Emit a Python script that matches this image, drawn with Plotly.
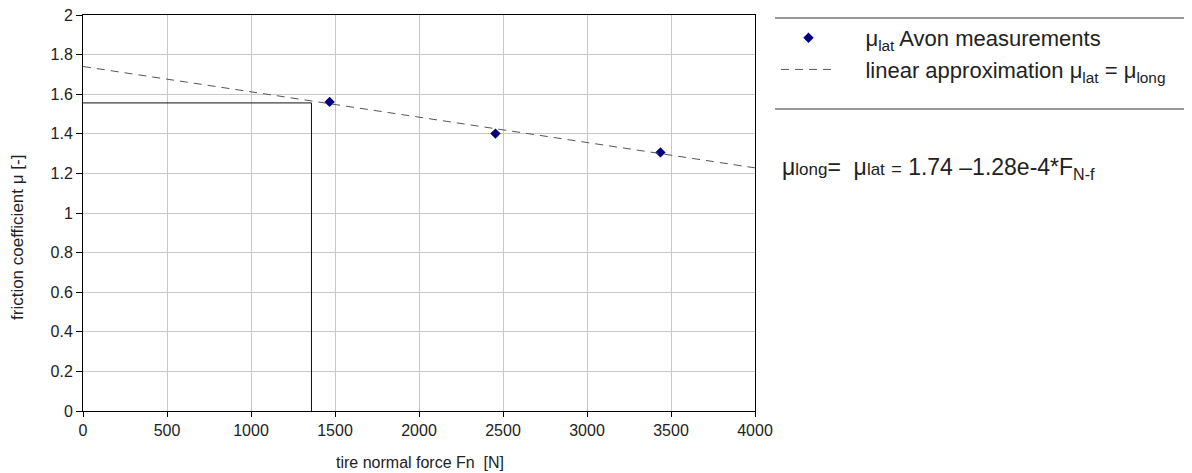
import plotly.graph_objects as go

# measured data
force_meas = [1468, 2455, 3437]
mu_meas = [1.561, 1.401, 1.306]

# linear approximation mu = a - b*F
approx_a = 1.74
approx_b = 1.28e-4
force_line = [0, 4000]
mu_line = [approx_a - approx_b * f for f in force_line]

# design point guide lines
guide_x = [0, 1360, 1360]
guide_y = [1.556, 1.556, 0]

x_ticks = [0, 500, 1000, 1500, 2000, 2500, 3000, 3500, 4000]
y_ticks = [0, 0.2, 0.4, 0.6, 0.8, 1, 1.2, 1.4, 1.6, 1.8, 2]

OFF = 8  # page body margin
W, H = 1184, 465
L, T = 75, 7
PW, PH = 672, 396
R = W - L - PW
B = H - T - PH

def px(xp):
    return (xp - OFF - L) / PW

def py(yp):
    return (T + PH - (yp - OFF)) / PH

FONT = "Liberation Sans, Arial, sans-serif"
TXT = "#222222"

fig = go.Figure()

fig.add_trace(go.Scatter(
    x=guide_x, y=guide_y, mode="lines",
    line=dict(color="#111111", width=1), showlegend=False, hoverinfo="skip"))

fig.add_trace(go.Scatter(
    x=force_meas, y=mu_meas, mode="markers",
    marker=dict(symbol="diamond", size=8, color="#000080"),
    name="    μ<sub>lat</sub> Avon measurements", legendgroup="a"))

fig.add_trace(go.Scatter(
    x=force_line, y=mu_line, mode="lines",
    line=dict(color="#555555", width=1, dash="8px,6px"),
    name="    linear approximation μ<sub>lat</sub> = μ<sub>long</sub>", legendgroup="b"))

fig.update_layout(
    width=W, height=H,
    margin=dict(l=L, r=R, t=T, b=B, autoexpand=False),
    paper_bgcolor="white", plot_bgcolor="white",
    font=dict(family=FONT, color=TXT),
    showlegend=True,
    legend=dict(
        xref="container", yref="container",
        x=(776 - OFF) / W, y=1 - 9 / H, xanchor="left", yanchor="top",
        font=dict(size=22, family=FONT, color=TXT),
        itemwidth=55, tracegroupgap=0, bgcolor="rgba(0,0,0,0)",
        borderwidth=0),
    xaxis=dict(
        range=[0, 4000], tickvals=x_ticks, ticks="outside", ticklen=5,
        tickcolor="black", showline=True, linecolor="black", linewidth=1,
        mirror=True, showgrid=True, gridcolor="#c8c8c8", gridwidth=1,
        zeroline=False, ticklabeloverflow="allow",
        tickfont=dict(size=16, family=FONT, color=TXT)),
    yaxis=dict(
        range=[0, 2], tickvals=y_ticks, ticks="outside", ticklen=6,
        tickcolor="black", showline=True, linecolor="black", linewidth=1,
        mirror=True, showgrid=True, gridcolor="#c8c8c8", gridwidth=1,
        zeroline=False, ticklabeloverflow="allow",
        tickfont=dict(size=16, family=FONT, color=TXT)),
)

# legend frame (top, bottom, right)
lx0, lx1, ly0, ly1 = px(775), px(1189), py(18), py(109)
for (a, b, c, d) in [(lx0, ly0, lx1, ly0), (lx0, ly1, lx1, ly1), (lx1, ly0, lx1, ly1)]:
    fig.add_shape(type="line", xref="paper", yref="paper", x0=a, y0=b, x1=c, y1=d,
                  line=dict(color="#333333", width=1))

fig.add_annotation(
    xref="paper", yref="paper", x=px(780), y=py(169), xanchor="left", yanchor="middle",
    text='μ<span style="font-size:17px">long</span>=  μ<span style="font-size:17px">lat</span> '
         '<span style="font-size:18px">=</span> 1.74 –1.28e-4*F<sub>N-f</sub>',
    showarrow=False, font=dict(size=23, family=FONT, color=TXT))

fig.add_annotation(
    xref="paper", yref="paper", x=px(420), y=py(462), xanchor="center", yanchor="middle",
    text="tire normal force Fn  [N]", showarrow=False,
    font=dict(size=16, family=FONT, color=TXT))

fig.add_annotation(
    xref="paper", yref="paper", x=px(17), y=py(238), xanchor="center", yanchor="middle",
    text="friction coefficient μ [-]", textangle=-90, showarrow=False,
    font=dict(size=17, family=FONT, color=TXT))

fig.write_html("out.html")
